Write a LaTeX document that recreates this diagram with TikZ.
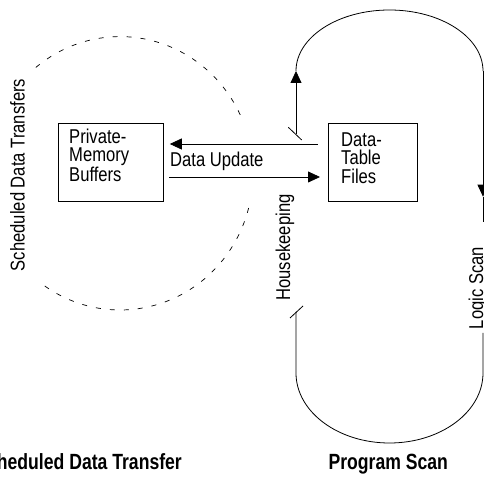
\documentclass[tikz,border=0pt]{standalone}
\usepackage{fontspec}
\setmainfont{Liberation Sans}
\newfontfamily\condf[FakeStretch=0.83]{Liberation Sans}
\newfontfamily\condbf[FakeStretch=0.8]{Liberation Sans}
\usetikzlibrary{arrows.meta}
\begin{document}
\begin{tikzpicture}[x=1pt,y=1pt,
  thin line/.style={line width=0.8pt},
  tipped/.style={thin line,-{Triangle[length=12pt,width=11pt]}},
  boxnode/.style={draw,line width=0.8pt,inner sep=0pt,anchor=south west,minimum height=77.7pt},
  lbl/.style={font=\condf\fontsize{20}{18.3}\selectfont,inner sep=0pt},
  ttl/.style={font=\condbf\bfseries\fontsize{22}{24}\selectfont,inner sep=0pt},
  dashcurve/.style={line width=0.7pt,dash pattern=on 5pt off 9pt}
]
\useasboundingbox (0,0) rectangle (484,481);

% boxes
\node[boxnode,minimum width=105.3pt] (pmb) at (57.7,279.3) {};
\node[boxnode,minimum width=88.4pt] (dtf) at (328.3,279.3) {};
\node[lbl,anchor=north west,align=left] (pmbt) at (69,352) {Private-\\Memory\\Buffers};
\node[lbl,anchor=north west,align=left] (dtft) at (341,348.5) {Data-\\Table\\Files};

% data update arrows
\coordinate (ua) at (317.5,337);
\coordinate (la) at (169,304);
\draw[tipped,shorten >=6pt] (ua) -- (ua -| pmb.east);
\draw[tipped,shorten >=8.3pt] (la) -- (la -| dtf.west);
\node[lbl,anchor=base west] (du) at (170,314.3) {Data Update};

% program scan loop
\coordinate (hkA) at (296,347);
\coordinate (upt) at (296,410);
\coordinate (rtop) at (483,410);
\coordinate (rtip) at (483,284.3);
\coordinate (rmid) at (483,259);
\coordinate (rlow) at (483,148);
\coordinate (rbot) at (483,108);
\coordinate (hkB) at (296,169);
\coordinate (lbot) at (296,108);
\coordinate (s1a) at (288.3,353.7);
\coordinate (s1b) at (301.7,341);
\coordinate (s2a) at (290,163);
\coordinate (s2b) at (303,175);

\draw[tipped] (hkA) -- (upt);
\draw[thin line] (upt) arc[start angle=180,end angle=0,x radius=93.5pt,y radius=61pt];
\draw[tipped] (rtop) -- (rtip);
\draw[thin line] (rtip) -- (rmid);
\draw[thin line] (hkB) -- (lbot) arc[start angle=180,end angle=360,x radius=93.5pt,y radius=70pt] -- (rlow);
\draw[thin line] (s1a) -- (s1b);
\draw[thin line] (s2a) -- (s2b);

% scheduled transfers dashed loop
\coordinate (ec) at (120,307.7);
\draw[dashcurve] (ec) ++(25.3:133pt and 136.7pt) arc[start angle=25.3,end angle=131.6,x radius=133pt,y radius=136.7pt];
\draw[dashcurve] (ec) ++(-14.7:133pt and 136.7pt) arc[start angle=-14.7,end angle=-127.3,x radius=133pt,y radius=136.7pt];

% rotated labels
\node[lbl,rotate=90,anchor=base] (sdts) at (24.5,306) {Scheduled Data Transfers};
\node[lbl,rotate=90,anchor=base] (hk) at (290,233.5) {Housekeeping};
\node[lbl,rotate=90,anchor=base] (ls) at (483,193) {Logic Scan};

% titles
\node[ttl,anchor=base east] (sdt) at (182,11) {Scheduled Data Transfer};
\node[ttl,anchor=base] (ps) at (388.3,11) {Program Scan};
\end{tikzpicture}
\end{document}
